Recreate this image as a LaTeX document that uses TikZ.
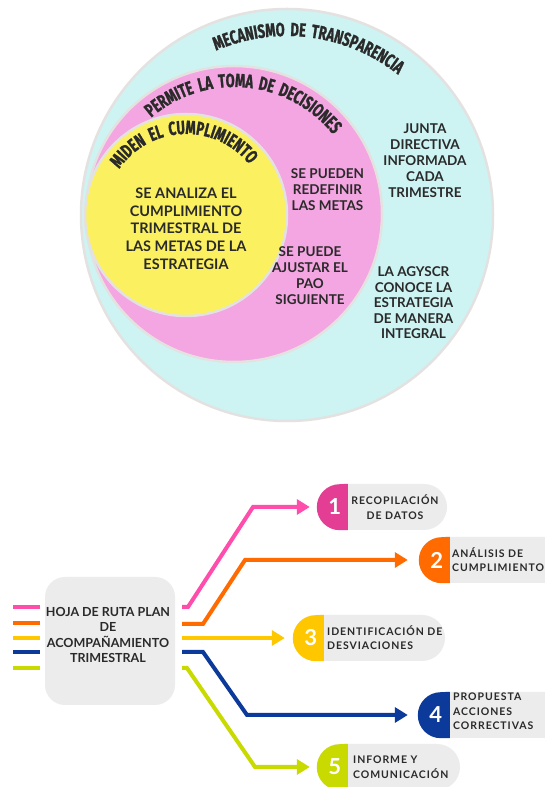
\documentclass[tikz,border=0pt]{standalone}
\usepackage{fontspec}
\setmainfont{Lato}
\newfontfamily\headfont[FakeStretch=0.68,LetterSpace=12,FakeBold=1.2]{Fira Sans}
\newfontfamily\pillfont[LetterSpace=9]{Lato}
\usetikzlibrary{decorations.text,arrows.meta}
\definecolor{cyanfill}{HTML}{CDF4F3}
\definecolor{pinkfill}{HTML}{F3A6E1}
\definecolor{yellowfill}{HTML}{FBF160}
\definecolor{ringgray}{HTML}{E4E2E0}
\definecolor{textdark}{HTML}{2A2A2A}
\definecolor{boxgray}{HTML}{ECECEC}
\definecolor{pinkline}{HTML}{FF4DAB}
\definecolor{pinkpill}{HTML}{E33D94}
\definecolor{orangeline}{HTML}{FF6B00}
\definecolor{yellowline}{HTML}{FFC700}
\definecolor{blueline}{HTML}{0B3A9B}
\definecolor{greenline}{HTML}{C8DA00}
\begin{document}
\begin{tikzpicture}[x=1pt,y=1pt,
  ring/.style={draw=ringgray,line width=2.5pt},
  ctext/.style={align=center,text=textdark,inner sep=0pt},
  bar/.style={line width=4.5pt},
  conn/.style={line width=4pt,line join=miter,-{Triangle[length=13pt,width=15pt]}},
  pillbox/.style={rectangle,rounded corners=23pt,fill=boxgray,minimum height=46pt,inner sep=0pt},
  digit/.style={text=white,inner sep=0pt,font=\bfseries\fontsize{22}{22}\selectfont},
  pilltext/.style={text=textdark,inner sep=0pt,font=\pillfont\bfseries\fontsize{10.5}{14.5}\selectfont},
  headdeco/.style={decorate,decoration={text along path,text align=center,
    text color=textdark,text={|\headfont\bfseries\fontsize{19}{19}\selectfont|#1}}}
]
\useasboundingbox (0,0) rectangle (544,787);
\fill[white] (0,0) rectangle (544,787);

% ---------- concentric circles ----------
\coordinate (oc) at (287,572);
\coordinate (pc) at (234,573);
\coordinate (yc) at (186,572);
\draw[ring,fill=cyanfill] (oc) circle[radius=206];
\draw[ring,fill=pinkfill] (pc) circle[radius=148];
\draw[ring,fill=yellowfill] (yc) circle[radius=101];

\path[headdeco={MECANISMO DE TRANSPARENCIA}]
  ([shift={(132.5:179)}]oc) arc[start angle=132.5,end angle=32.5,radius=179];
\path[headdeco={PERMITE LA TOMA DE DECISIONES}]
  ([shift={(134.7:127)}]pc) arc[start angle=134.7,end angle=34.7,radius=127];
\path[headdeco={MIDEN EL CUMPLIMIENTO}]
  ([shift={(157:81)}]yc) arc[start angle=157,end angle=27,radius=81];

\node[ctext,font=\bfseries\fontsize{14.5}{17.7}\selectfont] (ytxt) at (186,558.5)
  {SE ANALIZA EL\\CUMPLIMIENTO\\TRIMESTRAL DE\\LAS METAS DE LA\\ESTRATEGIA};
\node[ctext,font=\bfseries\fontsize{13.5}{16}\selectfont] (ptxt1) at (327.5,597.5)
  {SE PUEDEN\\REDEFINIR\\LAS METAS};
\node[ctext,font=\bfseries\fontsize{13.5}{16}\selectfont] (ptxt2) at (310,511.5)
  {SE PUEDE\\AJUSTAR EL\\PAO\\SIGUIENTE};
\node[ctext,font=\bfseries\fontsize{13.5}{16}\selectfont] (ctxt1) at (425,626.5)
  {JUNTA\\DIRECTIVA\\INFORMADA\\CADA\\TRIMESTRE};
\node[ctext,font=\bfseries\fontsize{13.5}{15.5}\selectfont] (ctxt2) at (413.5,484)
  {LA AGYSCR\\CONOCE LA\\ESTRATEGIA\\DE MANERA\\INTEGRAL};

% ---------- hub ----------
\node[rectangle,rounded corners=20pt,fill=boxgray,minimum width=130pt,minimum height=128pt] (hub) at (110,146) {};
\node[ctext,font=\bfseries\fontsize{12.5}{15.5}\selectfont] (hubtxt) at (108,152)
  {HOJA DE RUTA PLAN\\DE\\ACOMPAÑAMIENTO\\TRIMESTRAL};

\draw[bar,pinkline] (13,180) -- (40,180);
\draw[bar,orangeline] (13,164) -- (40,164);
\draw[bar,yellowline] (13,149) -- (40,149);
\draw[bar,blueline] (13,135) -- (40,135);
\draw[bar,greenline] (13,119) -- (40,119);

% ---------- pills ----------
\node[pillbox,minimum width=130pt] (p1) at (382,280) {};
\node[pillbox,minimum width=151pt] (p2) at (494.5,227) {};
\node[pillbox,minimum width=152pt] (p3) at (369,149) {};
\node[pillbox,minimum width=152pt] (p4) at (494,72) {};
\node[pillbox,minimum width=143pt] (p5) at (388.5,20) {};

\fill[pinkpill] ([xshift=31pt]p1.south west) -- ([xshift=23pt]p1.south west) arc[start angle=270,end angle=90,radius=23pt] -- ([xshift=31pt]p1.north west) -- cycle;
\fill[orangeline] ([xshift=31pt]p2.south west) -- ([xshift=23pt]p2.south west) arc[start angle=270,end angle=90,radius=23pt] -- ([xshift=31pt]p2.north west) -- cycle;
\fill[yellowline] ([xshift=31pt]p3.south west) -- ([xshift=23pt]p3.south west) arc[start angle=270,end angle=90,radius=23pt] -- ([xshift=31pt]p3.north west) -- cycle;
\fill[blueline] ([xshift=32pt]p4.south west) -- ([xshift=23pt]p4.south west) arc[start angle=270,end angle=90,radius=23pt] -- ([xshift=32pt]p4.north west) -- cycle;
\fill[greenline] ([xshift=31pt]p5.south west) -- ([xshift=23pt]p5.south west) arc[start angle=270,end angle=90,radius=23pt] -- ([xshift=31pt]p5.north west) -- cycle;

\node[digit] (d1) at ([xshift=18pt]p1.west) {1};
\node[digit] (d2) at ([xshift=18pt]p2.west) {2};
\node[digit] (d3) at ([xshift=18pt]p3.west) {3};
\node[digit] (d4) at ([xshift=18pt]p4.west) {4};
\node[digit] (d5) at ([xshift=18pt]p5.west) {5};

\node[pilltext,align=center] (t1) at (395,280) {RECOPILACIÓN\\DE DATOS};
\node[pilltext,align=left,anchor=west] (t2) at (452,227.5) {ANÁLISIS DE\\CUMPLIMIENTO};
\node[pilltext,align=left,anchor=west] (t3) at (327,149.5) {IDENTIFICACIÓN DE\\DESVIACIONES};
\node[pilltext,align=left,anchor=west] (t4) at (453,75.5) {PROPUESTA\\ACCIONES\\CORRECTIVAS};
\node[pilltext,align=left,anchor=west] (t5) at (353,20) {INFORME Y\\COMUNICACIÓN};

% ---------- connectors ----------
\coordinate (s1) at (182,180);
\coordinate (s2) at (182,163);
\coordinate (s3) at (182,149);
\coordinate (s4) at (182,135);
\coordinate (s5) at (182,119);
\draw[conn,pinkline] (s1) -- (188,180) -- (253,280) -- ([xshift=-7pt]p1.west);
\draw[conn,orangeline] (s2) -- (203,163) -- (245,227) -- ([xshift=-11pt]p2.west);
\draw[conn,yellowline] (s3) -- ([xshift=-8pt]p3.west);
\draw[conn,blueline] (s4) -- (203,135) -- (247,72) -- ([xshift=-10pt]p4.west);
\draw[conn,greenline] (s5) -- (187,119) -- (255,20) -- ([xshift=-7pt]p5.west);
\end{tikzpicture}
\end{document}
